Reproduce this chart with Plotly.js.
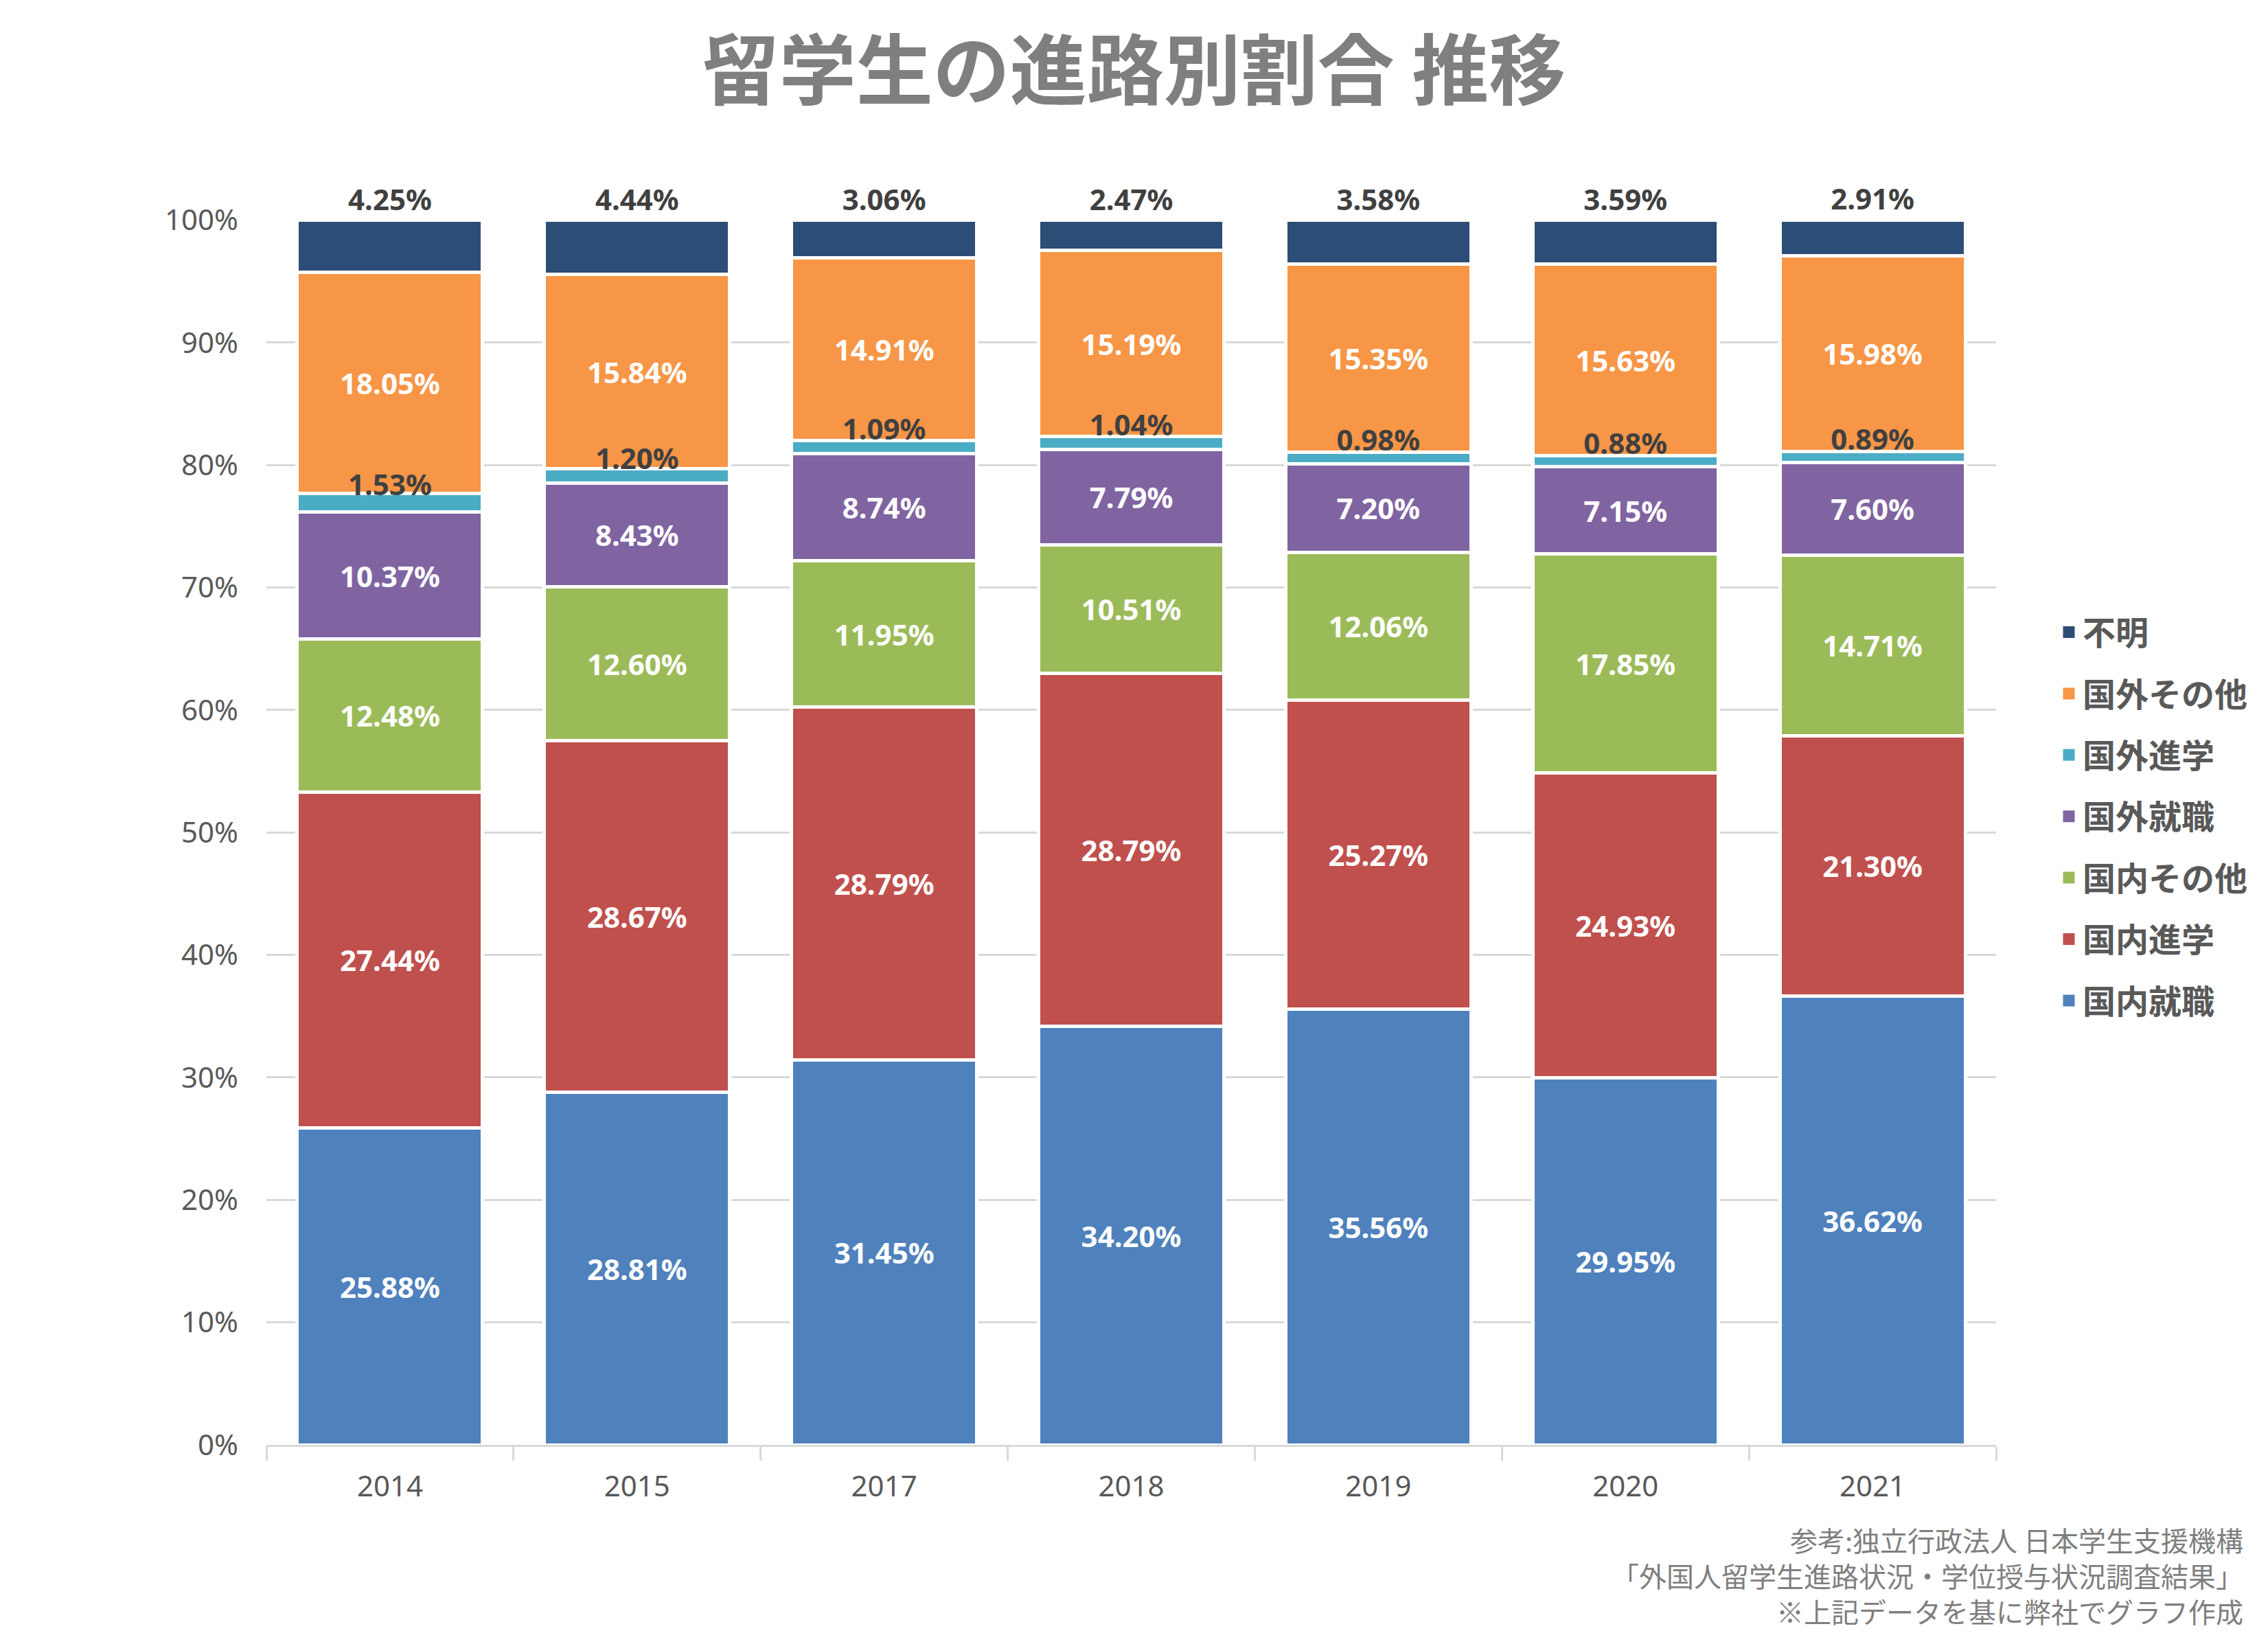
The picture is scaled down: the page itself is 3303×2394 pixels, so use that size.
<!DOCTYPE html>
<html>
<head>
<meta charset="utf-8">
<script src="https://cdn.plot.ly/plotly-3.0.1.min.js"></script>
<style>
html,body{margin:0;padding:0;background:#fff;}
#chart{width:3303px;height:2394px;}
</style>
</head>
<body>
<div id="chart"></div>
<script>
const years = ['2014','2015','2017','2018','2019','2020','2021'];
const domesticJob   = [25.88, 28.81, 31.45, 34.20, 35.56, 29.95, 36.62];
const domesticStudy = [27.44, 28.67, 28.79, 28.79, 25.27, 24.93, 21.30];
const domesticOther = [12.48, 12.60, 11.95, 10.51, 12.06, 17.85, 14.71];
const abroadJob     = [10.37,  8.43,  8.74,  7.79,  7.20,  7.15,  7.60];
const abroadStudy   = [ 1.53,  1.20,  1.09,  1.04,  0.98,  0.88,  0.89];
const abroadOther   = [18.05, 15.84, 14.91, 15.19, 15.35, 15.63, 15.98];
const unknown       = [ 4.25,  4.44,  3.06,  2.47,  3.58,  3.59,  2.91];

const seriesNames = ['国内就職','国内進学','国内その他','国外就職','国外進学','国外その他','不明'];
const seriesData  = [domesticJob, domesticStudy, domesticOther, abroadJob, abroadStudy, abroadOther, unknown];
const colors = ['#4F81BD','#C0504D','#9BBB59','#8064A2','#4BACC6','#F79646','#2C4D75'];

const numFont = '"Noto Sans", sans-serif';
const cjkFont = '"Noto Sans CJK JP", sans-serif';

const traces = seriesData.map((vals, i) => {
  const t = {
    type: 'bar',
    name: seriesNames[i],
    x: years,
    y: vals,
    showlegend: false,
    legendgroup: 'g' + i,
    marker: {color: colors[i], line: {color: '#ffffff', width: 5}},
    texttemplate: '%{y:.2f}%',
    textangle: 0,
    constraintext: 'none',
    cliponaxis: false,
    hoverinfo: 'skip',
    textfont: {family: numFont, size: 42, color: '#ffffff', weight: 'bold'}
  };
  if (seriesNames[i] === '不明') {
    t.textposition = 'outside';
    t.outsidetextfont = {family: numFont, size: 42, color: '#404040', weight: 'bold'};
  } else if (seriesNames[i] === '国外進学') {
    t.texttemplate = '';
    t.textposition = 'none';
  } else {
    t.textposition = 'inside';
    t.insidetextanchor = 'middle';
    t.insidetextfont = {family: numFont, size: 42, color: '#ffffff', weight: 'bold'};
  }
  return t;
});

// legend entries (solid squares, no white outline)
seriesNames.forEach((nm, i) => {
  traces.push({
    type: 'bar',
    name: nm,
    x: [years[0]],
    y: [null],
    legendgroup: 'g' + i,
    legendrank: seriesNames.length - i,
    showlegend: true,
    marker: {color: colors[i], line: {color: colors[i], width: 5}},
    hoverinfo: 'skip'
  });
});

// labels for the thin 国外進学 segment, drawn on top of the bars
const below = years.map((_, k) => domesticJob[k] + domesticStudy[k] + domesticOther[k] + abroadJob[k] + abroadStudy[k] / 2);
traces.push({
  type: 'scatter',
  mode: 'text',
  x: years,
  y: below,
  text: abroadStudy.map(v => v.toFixed(2) + '%'),
  textposition: 'top center',
  textfont: {family: numFont, size: 42, color: '#404040', weight: 'bold'},
  showlegend: false,
  hoverinfo: 'skip',
  cliponaxis: false
});

const layout = {
  width: 3303,
  height: 2394,
  paper_bgcolor: '#ffffff',
  plot_bgcolor: '#ffffff',
  barmode: 'stack',
  bargap: 0.25,
  margin: {l: 388, r: 396, t: 320, b: 290},
  title: {
    text: '<b>留学生の進路別割合 推移</b>',
    font: {family: cjkFont, size: 112, color: '#7f7f7f'},
    x: 0.5, xanchor: 'center',
    y: 1 - 105/2394, yanchor: 'middle', yref: 'container'
  },
  xaxis: {
    type: 'category',
    showgrid: false,
    showline: true,
    linecolor: '#D9D9D9',
    linewidth: 3,
    ticks: 'outside',
    tickson: 'boundaries',
    ticklen: 20,
    tickwidth: 3,
    tickcolor: '#D9D9D9',
    tickfont: {family: numFont, size: 42, color: '#595959'},
    ticklabelstandoff: 22,
    zeroline: false
  },
  yaxis: {
    range: [0, 100.03],
    tick0: 0,
    dtick: 10,
    ticksuffix: '%',
    showgrid: true,
    gridcolor: '#D9D9D9',
    gridwidth: 3,
    zeroline: false,
    showline: false,
    ticks: '',
    tickfont: {family: numFont, size: 42, color: '#595959'},
    ticklabelstandoff: 40
  },
  legend: {
    x: (2993 - 388) / 2519,
    xanchor: 'left',
    y: 0.513,
    yanchor: 'middle',
    traceorder: 'grouped',
    tracegroupgap: 24,
    font: {family: cjkFont, size: 48, color: '#595959', weight: 'bold'},
    bgcolor: 'rgba(0,0,0,0)'
  },
  annotations: [{
    xref: 'paper', yref: 'paper',
    x: (3269 - 388) / 2519, xanchor: 'right',
    y: (2104 - 2294) / 1784, yanchor: 'middle',
    align: 'right',
    showarrow: false,
    text: '参考:独立行政法人 日本学生支援機構<br>「外国人留学生進路状況・学位授与状況調査結果」<br>※上記データを基に弊社でグラフ作成',
    font: {family: cjkFont, size: 40, color: '#7f7f7f'}
  }],
  showlegend: true,
  hovermode: false
};

Plotly.newPlot('chart', traces, layout, {displayModeBar: false, staticPlot: true});
</script>
</body>
</html>
